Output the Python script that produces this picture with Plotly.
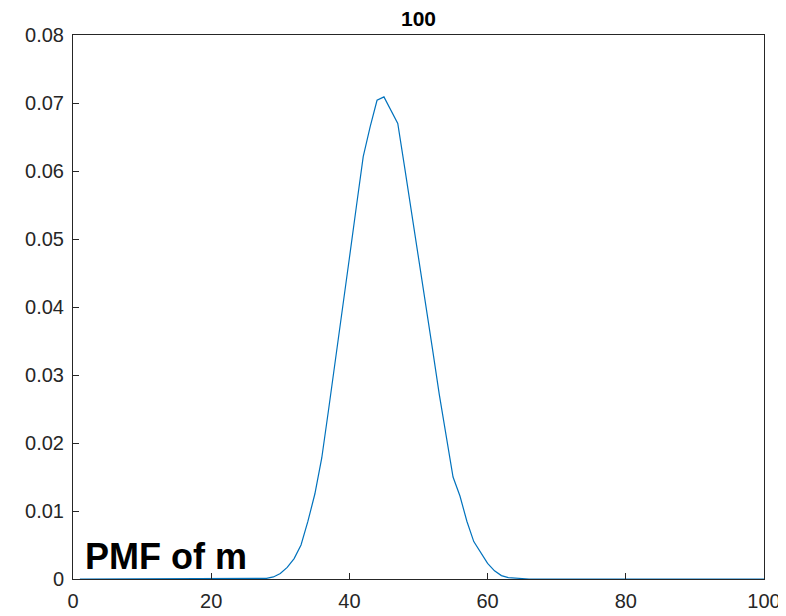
import plotly.graph_objects as go

x_vals = list(range(1, 101))
pmf_nonzero = {
    27: 0.00005, 28: 0.0001, 29: 0.0003, 30: 0.0008, 31: 0.0017, 32: 0.0030,
    33: 0.0050, 34: 0.0085, 35: 0.0125, 36: 0.0178, 37: 0.0250, 38: 0.0322,
    39: 0.0397, 40: 0.0472, 41: 0.0547, 42: 0.0621, 43: 0.0665, 44: 0.0704,
    45: 0.0709, 46: 0.0690, 47: 0.0670, 48: 0.0605, 49: 0.0540, 50: 0.0472,
    51: 0.0405, 52: 0.0340, 53: 0.0272, 54: 0.0210, 55: 0.0150, 56: 0.0122,
    57: 0.0085, 58: 0.0055, 59: 0.0038, 60: 0.0023, 61: 0.0012, 62: 0.0005,
    63: 0.0002, 64: 0.0001,
}
y_vals = [pmf_nonzero.get(k, 0.0) for k in x_vals]

x_ticks = [0, 20, 40, 60, 80, 100]
y_ticks = [0, 0.01, 0.02, 0.03, 0.04, 0.05, 0.06, 0.07, 0.08]
y_tick_text = ["0", "0.01", "0.02", "0.03", "0.04", "0.05", "0.06", "0.07", "0.08"]

fig = go.Figure()
fig.add_trace(go.Scatter(x=x_vals, y=y_vals, mode="lines",
                         line=dict(color="#0072BD", width=1.2),
                         showlegend=False, hoverinfo="skip"))

axis_common = dict(showgrid=False, zeroline=False, showline=True, linecolor="#262626",
                   linewidth=1, mirror=True, ticks="inside", ticklen=6,
                   tickcolor="#262626", automargin=False,
                   tickfont=dict(family="Liberation Sans, Arial", size=20, color="#262626"))
fig.update_xaxes(range=[0, 100], tickvals=x_ticks, ticklabelstandoff=4, **axis_common)
fig.update_yaxes(range=[0, 0.08], tickvals=y_ticks, ticktext=y_tick_text,
                 ticklabelstandoff=4, **axis_common)

fig.update_layout(
    width=778, height=608,
    margin=dict(l=65, r=22, t=27, b=37),
    paper_bgcolor="white", plot_bgcolor="white",
    title=dict(text="<b>100</b>", x=(65 + 691 / 2) / 778, xanchor="center",
               y=1 - 3 / 608, yanchor="top", pad=dict(t=0, b=0, l=0, r=0),
               font=dict(family="Liberation Sans, Arial", size=21, color="black")),
    annotations=[dict(text="<b>PMF of m</b>", xref="paper", yref="paper",
                      x=0.014, y=0.042, xanchor="left", yanchor="middle", showarrow=False,
                      font=dict(family="Liberation Sans, Arial", size=36, color="black"))],
)

fig.write_html("out.html")
